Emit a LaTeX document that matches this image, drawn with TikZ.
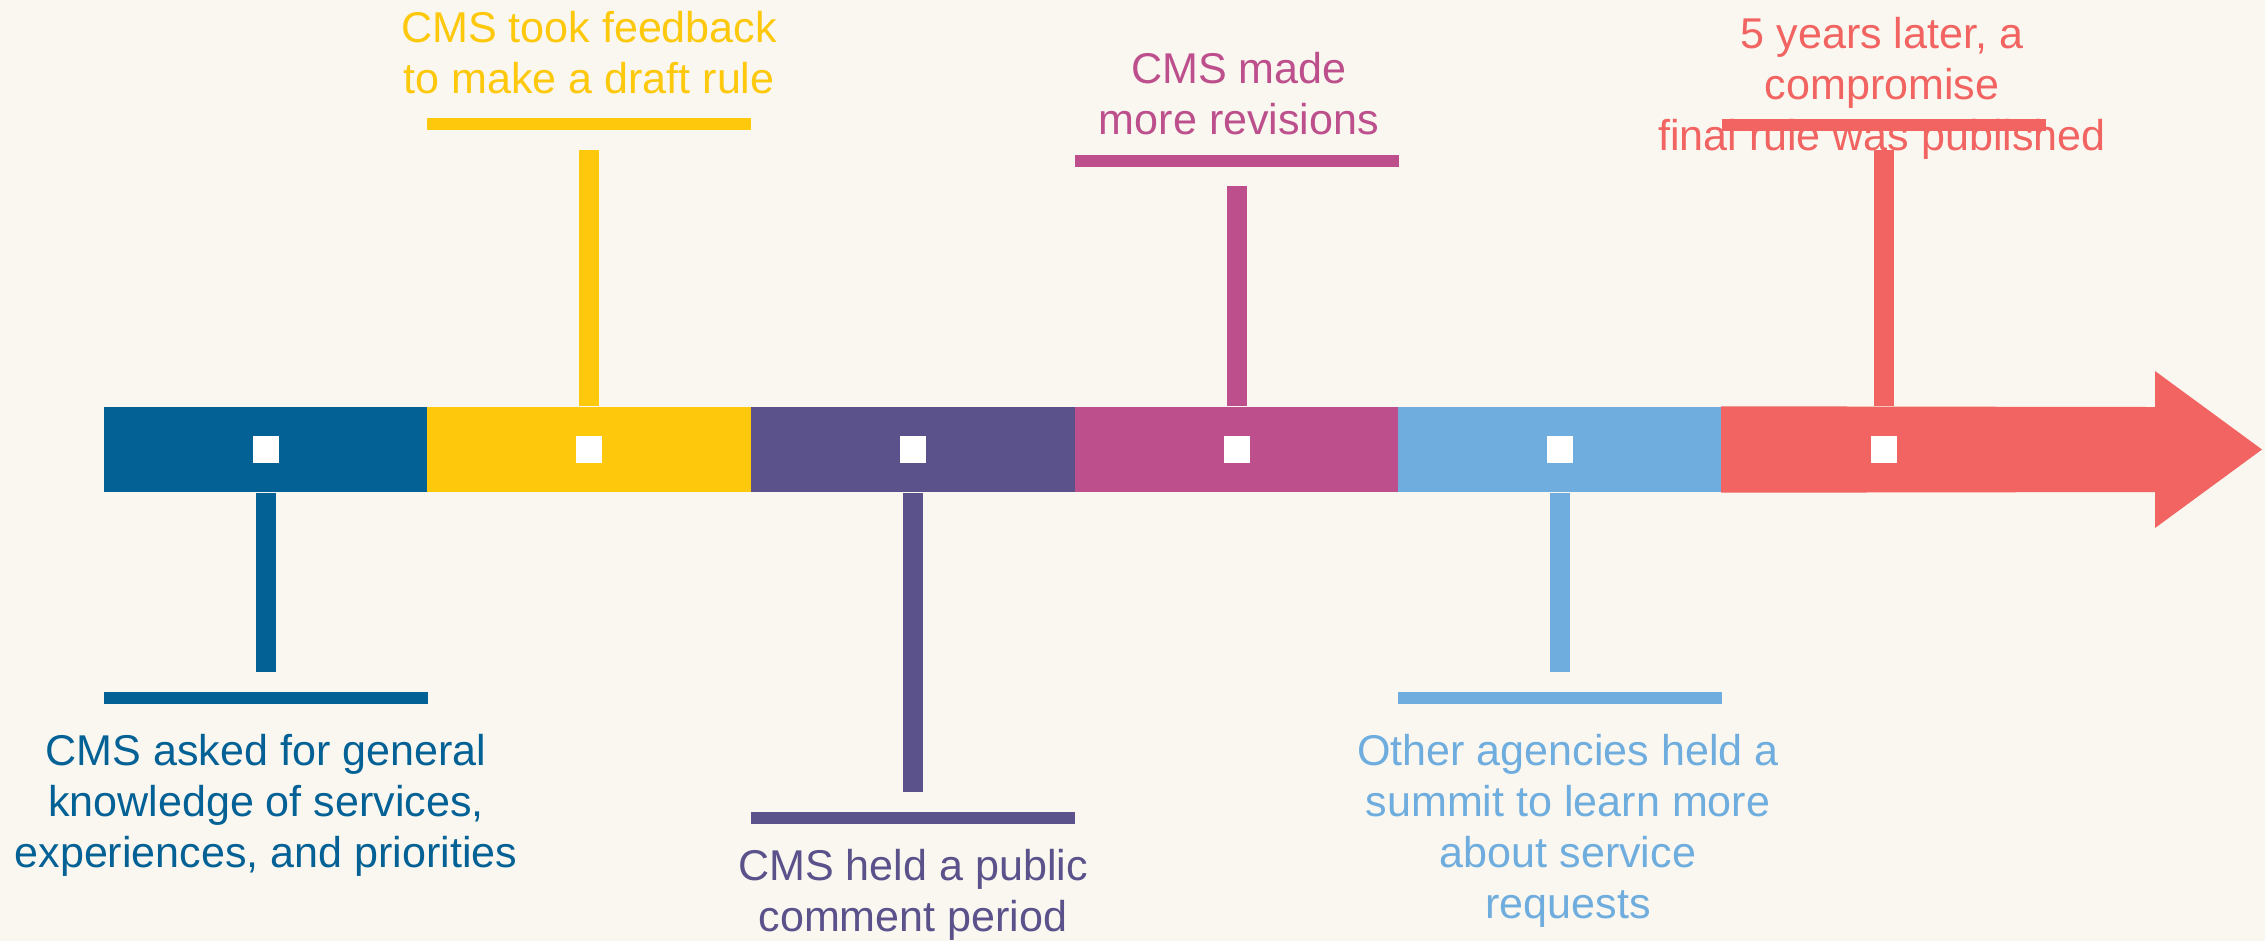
\documentclass[tikz,border=0pt]{standalone}
\usepackage{fontspec}
\setmainfont{Liberation Sans}
\definecolor{bgcol}{HTML}{F9F7EF}
\definecolor{tlBlue}{HTML}{046196}
\definecolor{tlYellow}{HTML}{FEC80D}
\definecolor{tlPurple}{HTML}{5B518B}
\definecolor{tlPink}{HTML}{BC4F8C}
\definecolor{tlSky}{HTML}{6FADDE}
\definecolor{tlRed}{HTML}{F16462}
\begin{document}
\begin{tikzpicture}[
    x=0.01cm, y=-0.01cm,
    period/.style={rectangle, fill=#1, inner sep=0, minimum width=3.24cm, minimum height=0.85cm},
    dotbox/.style={rectangle, fill=white, inner sep=0, minimum width=0.26cm, minimum height=0.27cm},
    capbar/.style={rectangle, fill=#1, inner sep=0, minimum width=3.24cm, minimum height=0.12cm},
    stem/.style={draw=#1, line width=0.2cm, shorten >=0.19cm},
    evtext/.style={text=#1, anchor=north, align=center, inner sep=0, font=\fontsize{12.25pt}{14.5pt}\selectfont}
]
\useasboundingbox (0,0) rectangle (2265,941);
\fill[bgcol] (0,0) rectangle (2265,941);

\node[period=tlBlue] (p1) at (265.8,449.5) {};
\node[period=tlYellow] (p2) at (589.4,449.5) {};
\node[period=tlPurple] (p3) at (913,449.5) {};
\node[period=tlPink] (p4) at (1236.6,449.5) {};
\node[period=tlSky] (p5) at (1560.2,449.5) {};
\node[period=none] (p6) at (1883.8,449.5) {};
\fill[tlRed] (p6.north west) -- (2155,407) -- (2155,371) -- (2262,449.5) -- (2155,528) -- (2155,492) -- (p6.south west) -- cycle;

\node[dotbox] (d1) at (p1) {};
\node[dotbox] (d2) at (p2) {};
\node[dotbox] (d3) at (p3) {};
\node[dotbox] (d4) at (p4) {};
\node[dotbox] (d5) at (p5) {};
\node[dotbox] (d6) at (p6) {};

\node[capbar=tlBlue] (c1) at (265.8,697.5) {};
\node[capbar=tlYellow] (c2) at (589.4,124) {};
\node[capbar=tlPurple] (c3) at (913,818) {};
\node[capbar=tlPink] (c4) at (1236.6,160.5) {};
\node[capbar=tlSky] (c5) at (1560.2,697.5) {};
\node[capbar=tlRed] (c6) at (1883.8,124.5) {};

\draw[stem=tlBlue] (p1.south) -- (c1.north);
\draw[stem=tlYellow] (p2.north) -- (c2.south);
\draw[stem=tlPurple] (p3.south) -- (c3.north);
\draw[stem=tlPink] (p4.north) -- (c4.south);
\draw[stem=tlSky] (p5.south) -- (c5.north);
\draw[stem=tlRed] (p6.north) -- (c6.south);

\node[evtext=tlBlue] (t1) at (266,734) {CMS asked for general\\knowledge of services,\\experiences, and priorities};
\node[evtext=tlYellow] (t2) at (589,11) {CMS took feedback\\to make a draft rule};
\node[evtext=tlPurple] (t3) at (913,849) {CMS held a public\\comment period};
\node[evtext=tlPink] (t4) at (1239,52) {CMS made\\more revisions};
\node[evtext=tlSky] (t5) at (1568,734) {Other agencies held a\\summit to learn more\\about service\\requests};
\node[evtext=tlRed] (t6) at (1882,17) {5 years later, a\\compromise\\final rule was published};
\end{tikzpicture}
\end{document}
